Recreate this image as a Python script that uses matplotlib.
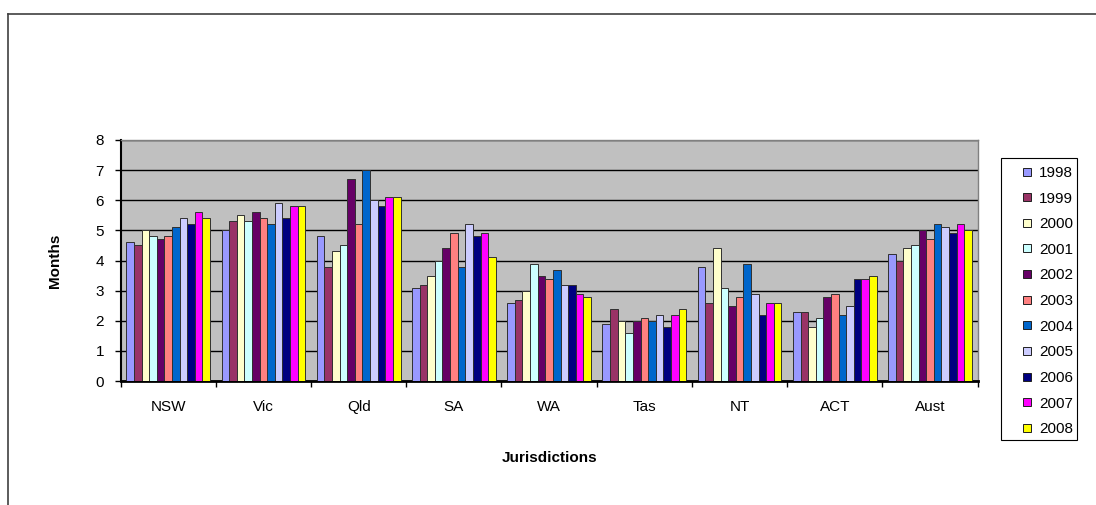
import numpy as np
import matplotlib
matplotlib.use("Agg")
import matplotlib.pyplot as plt
from matplotlib.lines import Line2D
from matplotlib.patches import Rectangle

plt.rcParams["font.family"] = ["Liberation Sans", "DejaVu Sans"]

jurisdictions = ["NSW", "Vic", "Qld", "SA", "WA", "Tas", "NT", "ACT", "Aust"]
years = ["1998", "1999", "2000", "2001", "2002", "2003", "2004", "2005", "2006", "2007", "2008"]

# months, one list per year, in jurisdiction order
m1998 = [4.6, 5.0, 4.8, 3.1, 2.6, 1.9, 3.8, 2.3, 4.2]
m1999 = [4.5, 5.3, 3.8, 3.2, 2.7, 2.4, 2.6, 2.3, 4.0]
m2000 = [5.0, 5.5, 4.3, 3.5, 3.0, 2.0, 4.4, 1.8, 4.4]
m2001 = [4.8, 5.3, 4.5, 4.0, 3.9, 1.6, 3.1, 2.1, 4.5]
m2002 = [4.7, 5.6, 6.7, 4.4, 3.5, 2.0, 2.5, 2.8, 5.0]
m2003 = [4.8, 5.4, 5.2, 4.9, 3.4, 2.1, 2.8, 2.9, 4.7]
m2004 = [5.1, 5.2, 7.0, 3.8, 3.7, 2.0, 3.9, 2.2, 5.2]
m2005 = [5.4, 5.9, 6.0, 5.2, 3.2, 2.2, 2.9, 2.5, 5.1]
m2006 = [5.2, 5.4, 5.8, 4.8, 3.2, 1.8, 2.2, 3.4, 4.9]
m2007 = [5.6, 5.8, 6.1, 4.9, 2.9, 2.2, 2.6, 3.4, 5.2]
m2008 = [5.4, 5.8, 6.1, 4.1, 2.8, 2.4, 2.6, 3.5, 5.0]
series = [m1998, m1999, m2000, m2001, m2002, m2003, m2004, m2005, m2006, m2007, m2008]

colors = ["#9999FF", "#993366", "#FFFFCC", "#CCFFFF", "#660066", "#FF8080",
          "#0066CC", "#CCCCFF", "#000080", "#FF00FF", "#FFFF00"]

W, H = 1096, 505
fig = plt.figure(figsize=(W / 100, H / 100), dpi=100)
ax = fig.add_axes([0.110, 0.2455, 0.782, 0.4773])
ax.set_facecolor("#C0C0C0")

x = np.arange(len(jurisdictions))
n = len(years)
w = 0.88 / n
for i, (vals, c, yr) in enumerate(zip(series, colors, years)):
    ax.bar(x - 0.44 + w * (i + 0.5), vals, w, color=c, edgecolor="#303030",
           linewidth=0.7, label=yr, zorder=3)

ax.set_xlim(-0.5, len(jurisdictions) - 0.5)
ax.set_ylim(0, 8)
ax.set_yticks(range(0, 9))
ax.yaxis.grid(True, color="black", linewidth=1.0, zorder=1)
ax.set_axisbelow(True)

ax.set_xticks(x)
ax.set_xticklabels(jurisdictions, fontsize=11)
ax.tick_params(axis="x", length=0, pad=14)
ax.set_xticks(np.arange(-0.5, len(jurisdictions)), minor=True)
ax.tick_params(axis="x", which="minor", length=4, width=1, direction="out")
ax.tick_params(axis="y", length=4, width=1, direction="out", labelsize=11, pad=8)

for s in ["top", "right"]:
    ax.spines[s].set_color("#808080")
    ax.spines[s].set_linewidth(1)
ax.spines["left"].set_linewidth(1.5)
ax.spines["bottom"].set_linewidth(2)

ax.set_ylabel("Months", fontsize=11, fontweight="bold", labelpad=24)
ax.set_xlabel("Jurisdictions", fontsize=11, fontweight="bold", labelpad=26)

# legend box drawn separately: it has a wide left margin
fig.add_artist(Rectangle((1001 / W, 1 - 440 / H), 76 / W, 282 / H, facecolor="white",
                         edgecolor="black", linewidth=0.8, transform=fig.transFigure))
handles = [Line2D([], [], marker="s", linestyle="none", markersize=6,
                  markerfacecolor=c, markeredgecolor="#202020", markeredgewidth=0.7)
           for c in colors]
leg = fig.legend(handles, years, loc="upper left", bbox_to_anchor=(1022 / W, 1 - 166 / H),
                 fontsize=11, frameon=False, handlelength=0.6, handletextpad=0.5,
                 labelspacing=0.76, borderpad=0, borderaxespad=0)

# outer chart-area border (top and left edges)
fig.add_artist(Line2D([0.0073, 1.0], [0.973, 0.973], color="#404040", linewidth=1.2,
                      transform=fig.transFigure))
fig.add_artist(Line2D([0.0073, 0.0073], [0.0, 0.973], color="#404040", linewidth=1.2,
                      transform=fig.transFigure))

fig.savefig("out.png", dpi=100)
